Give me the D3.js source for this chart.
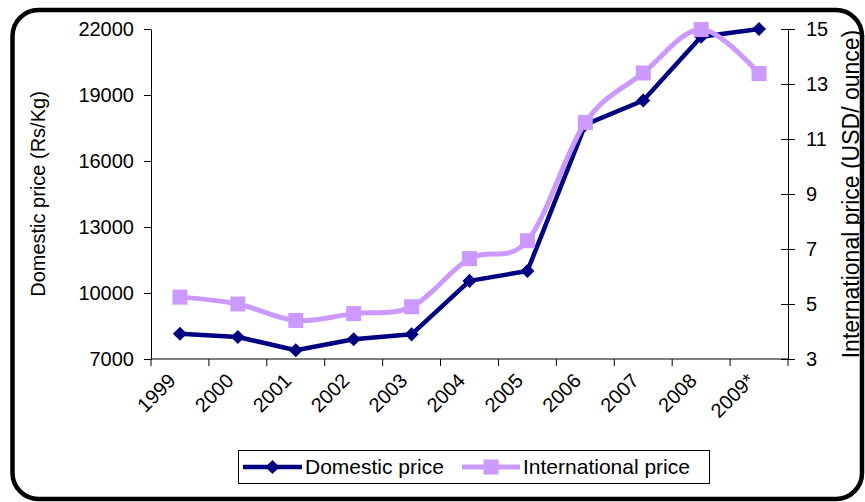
<!DOCTYPE html>
<html>
<head>
<meta charset="utf-8">
<script src="https://cdn.jsdelivr.net/npm/d3@7"></script>
<style>
  html, body { margin: 0; padding: 0; background: #fff; }
  svg { display: block; font-family: "Liberation Sans", Arial, sans-serif; }
</style>
</head>
<body>
<svg id="chart" width="865" height="502"></svg>
<script>
// Years on the category axis
const years = ["1999", "2000", "2001", "2002", "2003", "2004", "2005", "2006", "2007", "2008", "2009*"];
// Domestic price, Rs/Kg (left axis)
const domestic = [8150, 8000, 7400, 7900, 8120, 10550, 11000, 17650, 18750, 21650, 22000];
// International price, USD/ounce (right axis)
const international = [5.25, 5.0, 4.4, 4.65, 4.9, 6.65, 7.3, 11.6, 13.4, 14.98, 13.38];
// Tick values for both value axes
const leftTicks = [7000, 10000, 13000, 16000, 19000, 22000];
const rightTicks = [3, 5, 7, 9, 11, 13, 15];

const svg = d3.select("#chart");
const plot = { left: 151, right: 788, top: 29, bottom: 359 };

// Rounded outer frame
svg.append("rect")
  .attr("x", 12.5).attr("y", 10)
  .attr("width", 849.5).attr("height", 489)
  .attr("rx", 26).attr("ry", 26)
  .attr("fill", "#fff").attr("stroke", "#000").attr("stroke-width", 4.5);

const x = d3.scaleBand().domain(years).range([plot.left, plot.right]).padding(0);
const yL = d3.scaleLinear().domain([7000, 22000]).range([plot.bottom, plot.top]);
const yR = d3.scaleLinear().domain([3, 15]).range([plot.bottom, plot.top]);

const fontSize = 20;
const font = "Liberation Sans, Arial, sans-serif";

// Left axis
const gL = svg.append("g").attr("transform", `translate(${plot.left},0)`)
  .call(d3.axisLeft(yL).tickValues(leftTicks).tickFormat(d3.format("d")).tickSize(7).tickSizeOuter(0).tickPadding(10));
// Right axis with ticks crossing the line
const gR = svg.append("g").attr("transform", `translate(${plot.right},0)`)
  .call(d3.axisRight(yR).tickValues(rightTicks).tickSize(7).tickSizeOuter(0).tickPadding(11));
gR.selectAll(".tick line").attr("x1", -7).attr("x2", 7);

// Bottom axis: ticks at category boundaries
const gB = svg.append("g").attr("transform", `translate(0,${plot.bottom})`);
gB.append("line").attr("x1", plot.left).attr("x2", plot.right).attr("stroke", "#000");
const bounds = years.map(d => x(d)).concat([x(years[years.length - 1]) + x.bandwidth()]);
gB.selectAll("line.tk").data(bounds).join("line").attr("class", "tk")
  .attr("x1", d => d).attr("x2", d => d).attr("y1", 0).attr("y2", 7).attr("stroke", "#000");
gB.selectAll("text").data(years).join("text")
  .attr("transform", d => `translate(${x(d) + x.bandwidth() / 2 - 8},${18}) rotate(-45)`)
  .attr("text-anchor", "end").attr("dy", "0.35em")
  .attr("font-size", fontSize).attr("font-family", font).attr("fill", "#000")
  .text(d => d);

[gL, gR].forEach(g => {
  g.select(".domain").attr("stroke", "#000");
  g.selectAll(".tick line").attr("stroke", "#000");
  g.selectAll("text").attr("font-size", fontSize).attr("fill", "#000").attr("font-family", font);
});

// Axis titles
svg.append("text")
  .attr("transform", `translate(45,${(plot.top + plot.bottom) / 2}) rotate(-90)`)
  .attr("text-anchor", "middle").attr("font-size", 20).text("Domestic price (Rs/Kg)");
svg.append("text")
  .attr("transform", `translate(859,${(plot.top + plot.bottom) / 2}) rotate(-90)`)
  .attr("text-anchor", "middle").attr("font-size", 23).text("International price (USD/ ounce)");

const cx = d => x(d) + x.bandwidth() / 2;
const domColor = "#000080", intColor = "#CC99FF";

// Domestic series: straight segments with diamond markers
svg.append("path")
  .datum(domestic)
  .attr("d", d3.line().x((d, i) => cx(years[i])).y(d => yL(d)))
  .attr("fill", "none").attr("stroke", domColor).attr("stroke-width", 4.5)
  .attr("stroke-linejoin", "round");
const diamond = d3.symbol().type(d3.symbolSquare).size(100);
svg.selectAll("path.dm").data(domestic).join("path").attr("class", "dm")
  .attr("d", diamond)
  .attr("transform", (d, i) => `translate(${cx(years[i])},${yL(d)}) rotate(45)`)
  .attr("fill", domColor);

// International series: smoothed line with square markers
svg.append("path")
  .datum(international)
  .attr("d", d3.line().curve(d3.curveCardinal.tension(0)).x((d, i) => cx(years[i])).y(d => yR(d)))
  .attr("fill", "none").attr("stroke", intColor).attr("stroke-width", 5);
svg.selectAll("rect.im").data(international).join("rect").attr("class", "im")
  .attr("x", (d, i) => cx(years[i]) - 7.5).attr("y", d => yR(d) - 7.5)
  .attr("width", 15).attr("height", 15).attr("fill", intColor);

// Legend
const lg = svg.append("g");
lg.append("rect").attr("x", 238.5).attr("y", 450.5).attr("width", 471).attr("height", 33)
  .attr("fill", "#fff").attr("stroke", "#000").attr("stroke-width", 1);
lg.append("line").attr("x1", 243).attr("x2", 302).attr("y1", 467).attr("y2", 467)
  .attr("stroke", domColor).attr("stroke-width", 4.5);
lg.append("path").attr("d", diamond).attr("transform", "translate(272.5,467) rotate(45)").attr("fill", domColor);
lg.append("text").attr("x", 305).attr("y", 467).attr("dy", "0.35em").attr("font-size", 21).text("Domestic price");
lg.append("line").attr("x1", 462).attr("x2", 520).attr("y1", 467).attr("y2", 467)
  .attr("stroke", intColor).attr("stroke-width", 5);
lg.append("rect").attr("x", 491 - 7.5).attr("y", 467 - 7.5).attr("width", 15).attr("height", 15).attr("fill", intColor);
lg.append("text").attr("x", 523).attr("y", 467).attr("dy", "0.35em").attr("font-size", 21).text("International price");
</script>
</body>
</html>
